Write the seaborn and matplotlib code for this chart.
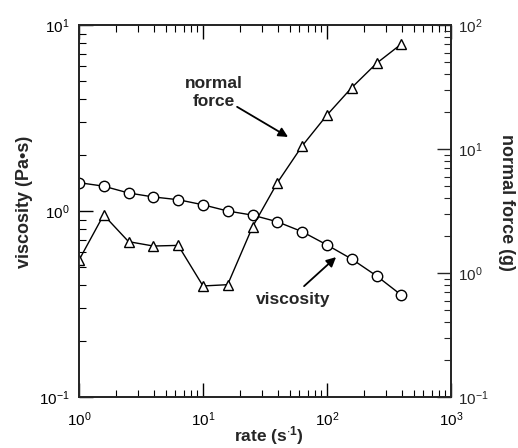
import matplotlib
matplotlib.use("Agg")
import matplotlib.pyplot as plt
import seaborn as sns
import pandas as pd

rate = [1, 1.58, 2.51, 3.98, 6.31, 10, 15.8, 25.1, 39.8, 63.1, 100, 158, 251, 398]
viscosity = [1.42, 1.36, 1.25, 1.19, 1.15, 1.08, 1.00, 0.95, 0.875, 0.774, 0.657, 0.552, 0.448, 0.353]
normal_force = [1.27, 2.94, 1.79, 1.65, 1.67, 0.786, 0.805, 2.36, 5.35, 10.6, 18.8, 31.2, 49.1, 70.3]

sns.set_style("ticks")
plt.rcParams['font.family'] = ['Liberation Sans', 'DejaVu Sans']
plt.rcParams['mathtext.fontset'] = 'custom'
plt.rcParams['mathtext.rm'] = 'Liberation Sans'
plt.rcParams['mathtext.it'] = 'Liberation Sans:italic'
plt.rcParams['mathtext.bf'] = 'Liberation Sans:bold'

df = pd.DataFrame({"rate": rate, "viscosity": viscosity, "normal_force": normal_force})

fig = plt.figure(figsize=(5.18, 4.48), dpi=100)
ax = fig.add_axes([79/518, 1-397/448, 372/518, 372/448])
ax2 = ax.twinx()

sns.lineplot(data=df, x="rate", y="viscosity", ax=ax, color="black", lw=1.0,
             marker="o", markersize=7.5, markerfacecolor="white", markeredgecolor="black",
             markeredgewidth=1.0)
sns.lineplot(data=df, x="rate", y="normal_force", ax=ax2, color="black", lw=1.0,
             marker="^", markersize=7.5, markerfacecolor="white", markeredgecolor="black",
             markeredgewidth=1.0)

ax.set_xscale("log")
ax.set_yscale("log")
ax2.set_yscale("log")
ax.set_xlim(1, 1000)
ax.set_ylim(0.1, 10)
ax2.set_ylim(0.1, 100)

for a in (ax, ax2):
    for s in a.spines.values():
        s.set_linewidth(1.3)
        s.set_visible(True)

ax.tick_params(which="both", direction="in", top=True, right=False, labelsize=11, colors="black")
ax.tick_params(which="major", length=10, width=1.0, pad=7)
ax.tick_params(axis="x", which="major", pad=10)
ax.tick_params(which="minor", length=5, width=0.8)
ax2.tick_params(which="both", direction="in", left=False, right=True, labelsize=11)
ax2.tick_params(which="major", length=10, width=1.0, pad=5)
ax2.tick_params(which="minor", length=5, width=0.8)

ax.set_xlabel(r"rate (s$^{\mathbf{\cdot 1}}$)", fontsize=12.5, fontweight="bold", va="top")
ax.xaxis.set_label_coords(0.51, -0.072)
ax.set_ylabel("viscosity (Pa•s)", fontsize=13, fontweight="bold", va="bottom")
ax.yaxis.set_label_coords(-0.124, 0.524)
ax2.set_ylabel("normal force (g)", fontsize=13, fontweight="bold", rotation=270, va="bottom")
ax2.yaxis.set_label_coords(1.126, 0.524)

ax.text(0.363, 0.819, "normal\nforce", transform=ax.transAxes, ha="center", va="center",
        fontsize=12.5, fontweight="bold", linespacing=1.3)
ax.annotate("", xy=(0.562, 0.699), xytext=(0.425, 0.780),
            xycoords="axes fraction", textcoords="axes fraction",
            arrowprops=dict(arrowstyle="-|>", color="black", lw=1.3, shrinkA=0, shrinkB=0,
                            mutation_scale=14))
ax.text(0.577, 0.261, "viscosity", transform=ax.transAxes, ha="center", va="center",
        fontsize=12.5, fontweight="bold")
ax.annotate("", xy=(0.691, 0.376), xytext=(0.605, 0.298),
            xycoords="axes fraction", textcoords="axes fraction",
            arrowprops=dict(arrowstyle="-|>", color="black", lw=1.3, shrinkA=0, shrinkB=0,
                            mutation_scale=14))

fig.savefig("out.png", dpi=100)
